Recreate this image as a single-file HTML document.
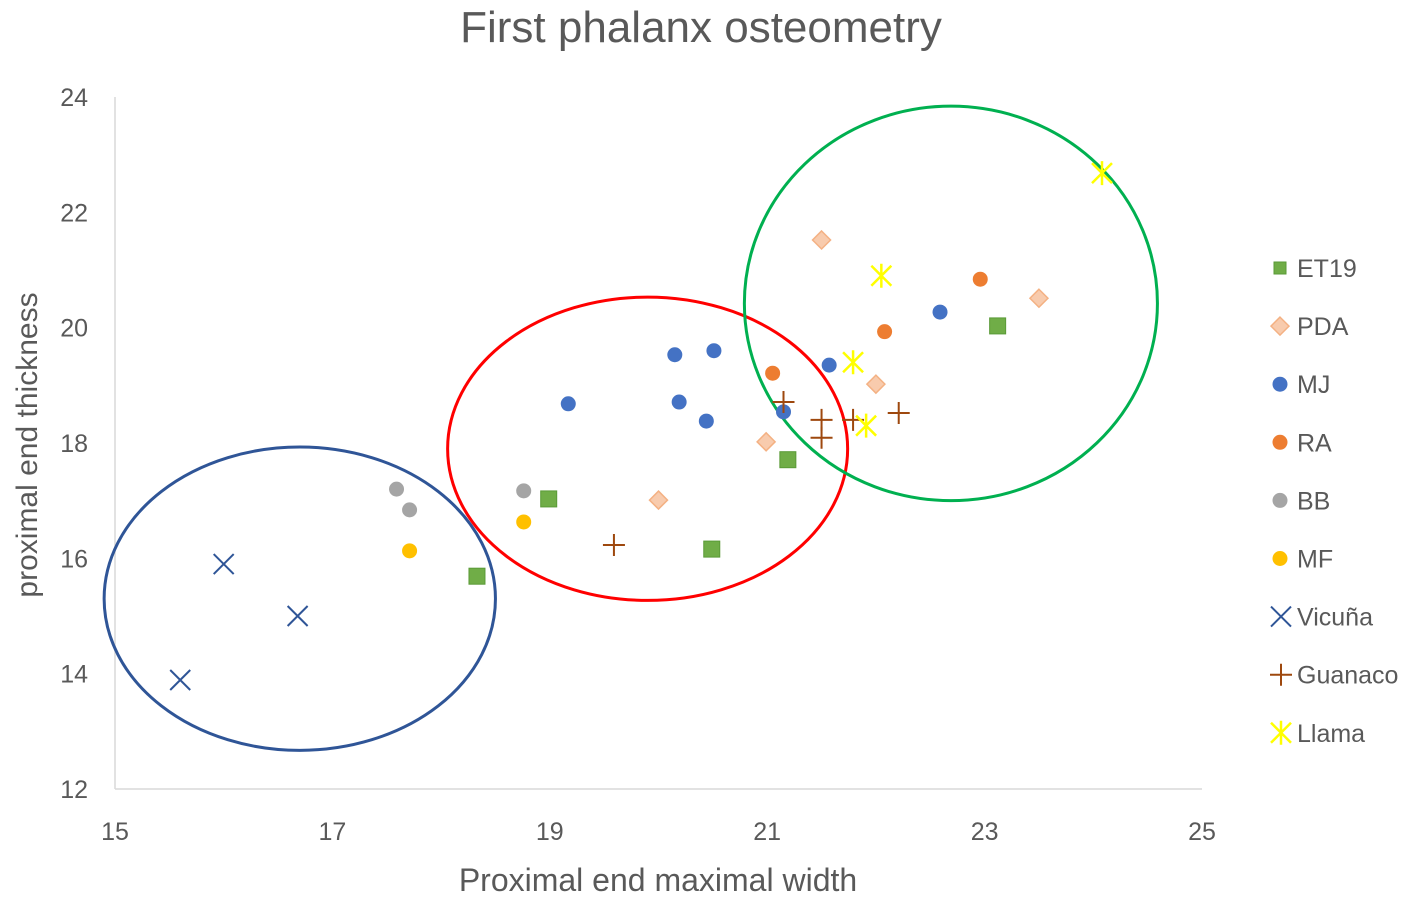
<!DOCTYPE html>
<html><head><meta charset="utf-8"><style>
body{margin:0;background:#fff;}
svg text{font-family:"Liberation Sans",sans-serif;fill:#595959;}
</style></head><body>
<svg id="chart" width="1417" height="899">
<text x="701" y="42" font-size="44" text-anchor="middle">First phalanx osteometry</text>
<g id="axes"></g><g id="ell"></g><g id="pts"></g><g id="leg"></g>
<text x="658" y="891" font-size="32" text-anchor="middle">Proximal end maximal width</text>
<text transform="translate(37,445) rotate(-90)" font-size="30" text-anchor="middle">proximal end thickness</text>
</svg>
<script>
const xTicks=[15,17,19,21,23,25];
const yTicks=[12,14,16,18,20,22,24];
const seriesNames=["ET19","PDA","MJ","RA","BB","MF","Vicuña","Guanaco","Llama"];
const ET19=[[18.33,15.69],[18.99,17.03],[20.49,16.16],[21.19,17.71],[23.12,20.03]];
const PDA=[[21.5,21.52],[23.5,20.51],[22.0,19.02],[20.99,18.02],[20.0,17.01]];
const MJ=[[19.17,18.68],[20.15,19.53],[20.51,19.6],[20.19,18.71],[20.44,18.38],[21.15,18.54],[21.57,19.35],[22.59,20.27]];
const RA=[[21.05,19.21],[22.08,19.93],[22.96,20.84]];
const BB=[[17.59,17.2],[17.71,16.84],[18.76,17.17]];
const MF=[[17.71,16.13],[18.76,16.63]];
const Vicuna=[[16.0,15.9],[16.68,15.0],[15.6,13.89]];
const Guanaco=[[19.59,16.23],[21.15,18.71],[21.5,18.4],[21.5,18.09],[21.79,18.4],[22.21,18.52]];
const Llama=[[24.08,22.68],[22.05,20.9],[21.79,19.4],[21.91,18.3]];
const ellipses=[[16.7,15.3,1.8,2.63,"#2f5597"],[19.9,17.9,1.84,2.63,"#ff0000"],[22.69,20.42,1.9,3.42,"#00b050"]];
const NS="http://www.w3.org/2000/svg";
const X=v=>115+(v-15)*108.7, Y=v=>789-(v-12)*57.67;
function mk(t,a,p){const e=document.createElementNS(NS,t);for(const k in a)e.setAttribute(k,a[k]);p.appendChild(e);return e;}
const ax=document.getElementById('axes');
const xl=mk('line',{x1:115,y1:789,x2:1202,y2:789,stroke:'#d9d9d9','stroke-width':1.5},ax);

const yl=mk('line',{x1:115,y1:97,x2:115,y2:789,stroke:'#d9d9d9','stroke-width':1.5},ax);

xTicks.forEach(t=>{const e=mk('text',{x:X(t),y:840,'font-size':25,'text-anchor':'middle'},ax);e.textContent=t;
});
yTicks.forEach(t=>{const e=mk('text',{x:88,y:Y(t)+9,'font-size':25,'text-anchor':'end'},ax);e.textContent=t;
});
const eg=document.getElementById('ell');
ellipses.forEach(d=>{const e=mk('ellipse',{cx:X(d[0]),cy:Y(d[1]),rx:d[2]*108.7,ry:d[3]*57.67,fill:'none',stroke:d[4],'stroke-width':3},eg);
});
function marker(kind,x,y,g){
 let e;
 if(kind==0){e=mk('rect',{x:x-8,y:y-8,width:16,height:16,fill:'#70ad47',stroke:'#5a9a37','stroke-width':1},g);}
 else if(kind==1){e=mk('polygon',{points:`${x},${y-9} ${x+9},${y} ${x},${y+9} ${x-9},${y}`,fill:'#f8cbad',stroke:'#f4b183','stroke-width':1.5},g);}
 else if(kind>=2&&kind<=5){const c=['#4472c4','#ed7d31','#a5a5a5','#ffc000'][kind-2];e=mk('circle',{cx:x,cy:y,r:7.5,fill:c},g);}
 else if(kind==6){e=mk('path',{d:`M${x-10},${y-10}L${x+10},${y+10}M${x+10},${y-10}L${x-10},${y+10}`,stroke:'#2f5597','stroke-width':2},g);}
 else if(kind==7){e=mk('path',{d:`M${x-11},${y}L${x+11},${y}M${x},${y-11}L${x},${y+11}`,stroke:'#9e480e','stroke-width':2},g);}
 else {e=mk('path',{d:`M${x-10},${y-10}L${x+10},${y+10}M${x+10},${y-10}L${x-10},${y+10}M${x},${y-12}L${x},${y+12}`,stroke:'#ffff00','stroke-width':2.5},g);}
 return e;
}
const all=[ET19,PDA,MJ,RA,BB,MF,Vicuna,Guanaco,Llama];
const pg=document.getElementById('pts');
all.forEach((s,i)=>s.forEach(p=>{const e=marker(i,X(p[0]),Y(p[1]),pg);

}));
const lg=document.getElementById('leg');
seriesNames.forEach((n,i)=>{const y=268+i*58.1;const g=mk('g',{},lg);


const m=i<6?marker(i,1280,y,g):marker(i,1281,y,g);
if(i==0){m.setAttribute('width',12);m.setAttribute('height',12);m.setAttribute('x',1274);m.setAttribute('y',y-6);}
const t=mk('text',{x:1297,y:y+9,'font-size':25},g);t.textContent=n;});
</script>
</body></html>
